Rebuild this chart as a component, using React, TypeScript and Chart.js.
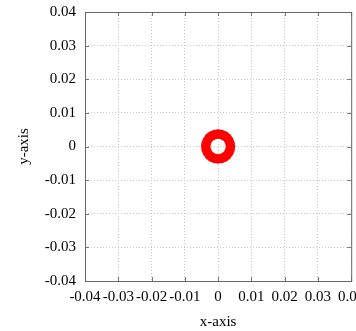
import React, { useEffect, useRef } from "react";
import { Chart, registerables } from "chart.js";

Chart.register(...registerables);

// Axis ticks
const xTicks = [-0.04, -0.03, -0.02, -0.01, 0, 0.01, 0.02, 0.03, 0.04];
const yTicks = [-0.04, -0.03, -0.02, -0.01, 0, 0.01, 0.02, 0.03, 0.04];
const xLabels = ["-0.04", "-0.03", "-0.02", "-0.01", "0", "0.01", "0.02", "0.03", "0.04"];
const yLabels = ["-0.04", "-0.03", "-0.02", "-0.01", "0", "0.01", "0.02", "0.03", "0.04"];

// Sample points of the red ring cloud (ring around origin)
const ringX = [
  0.0037, 0.00357, 0.0032, 0.00262, 0.00185, 0.00096, 0.0, -0.00096, -0.00185, -0.00262, -0.0032, -0.00357,
  -0.0037, -0.00357, -0.0032, -0.00262, -0.00185, -0.00096, 0.0, 0.00096, 0.00185, 0.00262, 0.0032, 0.00357,
];
const ringY = [
  0.0, 0.00096, 0.00185, 0.00262, 0.0032, 0.00357, 0.0037, 0.00357, 0.0032, 0.00262, 0.00185, 0.00096,
  0.0, -0.00096, -0.00185, -0.00262, -0.0032, -0.00357, -0.0037, -0.00357, -0.0032, -0.00262, -0.00185, -0.00096,
];

const FONT = "'Liberation Serif', 'Times New Roman', serif";

const innerTicks = {
  id: "innerTicks",
  afterDatasetsDraw(chart: any) {
    const { ctx, chartArea: a } = chart;
    const xs = chart.scales.x;
    const ys = chart.scales.y;
    const len = 4;
    ctx.save();
    ctx.strokeStyle = "#777777";
    ctx.lineWidth = 1;
    ctx.beginPath();
    xTicks.forEach((v) => {
      const px = Math.round(xs.getPixelForValue(v)) + 0.5;
      ctx.moveTo(px, a.bottom);
      ctx.lineTo(px, a.bottom - len);
      ctx.moveTo(px, a.top);
      ctx.lineTo(px, a.top + len);
    });
    yTicks.forEach((v) => {
      const py = Math.round(ys.getPixelForValue(v)) + 0.5;
      ctx.moveTo(a.left, py);
      ctx.lineTo(a.left + len, py);
      ctx.moveTo(a.right, py);
      ctx.lineTo(a.right - len, py);
    });
    ctx.stroke();
    ctx.strokeStyle = "#666666";
    ctx.strokeRect(a.left + 0.5, a.top + 0.5, a.right - a.left, a.bottom - a.top);
    ctx.restore();
  },
};

export default function App() {
  const ref = useRef<HTMLCanvasElement | null>(null);

  useEffect(() => {
    if (!ref.current) return;
    const points = ringX.map((x, i) => ({ x, y: ringY[i] }));
    const chart = new Chart(ref.current, {
      type: "scatter",
      data: {
        datasets: [
          {
            data: points,
            backgroundColor: "rgb(255,0,0)",
            borderColor: "rgb(255,0,0)",
            pointRadius: 4.8,
            borderWidth: 0,
          },
        ],
      },
      plugins: [innerTicks],
      options: {
        animation: false,
        responsive: false,
        maintainAspectRatio: false,
        layout: { padding: { top: 12, right: 3, left: 0, bottom: 0 } },
        plugins: { legend: { display: false }, tooltip: { enabled: false } },
        scales: {
          x: {
            type: "linear",
            min: -0.04,
            max: 0.04,
            afterBuildTicks(scale: any) {
              scale.ticks = xTicks.map((v) => ({ value: v }));
            },
            afterFit(scale: any) {
              scale.height = 50;
              scale.paddingLeft = 0;
              scale.paddingRight = 0;
            },
            ticks: {
              autoSkip: false,
              maxRotation: 0,
              minRotation: 0,
              padding: 7,
              color: "#000000",
              font: { family: FONT, size: 15 },
              callback: (_v: any, i: number) => xLabels[i],
            },
            grid: {
              color: "#c8c8c8",
              drawTicks: false,
            },
            border: { display: false, dash: [1, 2] },
            title: {
              display: true,
              text: "x-axis",
              color: "#000000",
              font: { family: FONT, size: 15 },
              padding: 0,
            },
          },
          y: {
            type: "linear",
            min: -0.04,
            max: 0.04,
            afterBuildTicks(scale: any) {
              scale.ticks = yTicks.map((v) => ({ value: v }));
            },
            afterFit(scale: any) {
              scale.width = 85;
              scale.paddingTop = 0;
              scale.paddingBottom = 0;
            },
            ticks: {
              autoSkip: false,
              padding: 9,
              color: "#000000",
              font: { family: FONT, size: 15 },
              callback: (_v: any, i: number) => yLabels[i],
            },
            grid: {
              color: "#c8c8c8",
              drawTicks: false,
            },
            border: { display: false, dash: [1, 2] },
            title: {
              display: true,
              text: "y-axis",
              color: "#000000",
              font: { family: FONT, size: 15 },
              padding: { top: 15, bottom: 0 },
            },
          },
        },
      },
    });
    return () => chart.destroy();
  }, []);

  return (
    <div style={{ position: "fixed", left: 0, top: 0, width: 356, height: 331, background: "#ffffff" }}>
      <canvas ref={ref} width={356} height={331} style={{ width: 356, height: 331, display: "block" }} />
    </div>
  );
}
